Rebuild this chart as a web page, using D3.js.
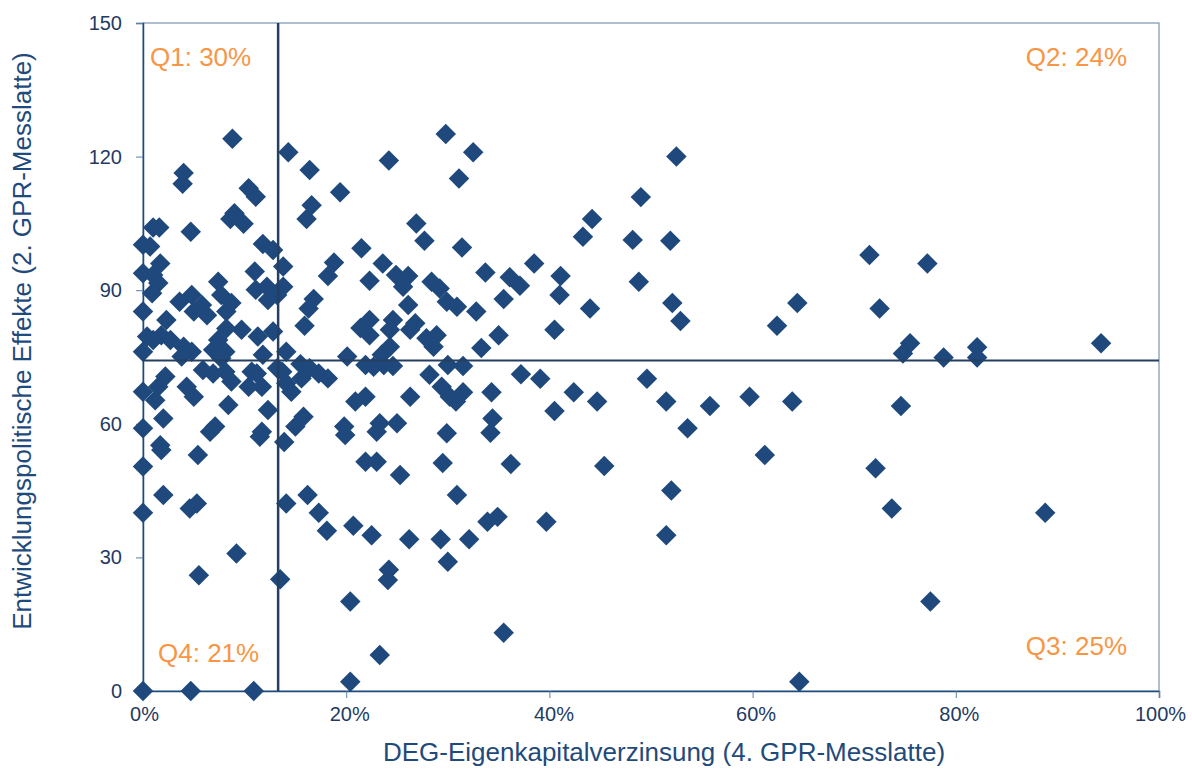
<!DOCTYPE html>
<html lang="de">
<head>
<meta charset="UTF-8">
<title>DEG Portfolio: Rendite vs. Entwicklungseffekte</title>
<script src="https://cdn.jsdelivr.net/npm/d3@7"></script>
<style>
  html, body { margin: 0; padding: 0; background: #ffffff; }
  svg { font-family: "Liberation Sans", Arial, sans-serif; display: block; }
  .axis text { fill: #1f3a63; font-size: 20px; }
  .axis path.domain { stroke: #1f4a7c; stroke-width: 1.5px; }
  .axis .tick line { stroke: #5b7fa8; stroke-width: 1px; }
  .title { fill: #1f4a7c; font-size: 26px; }
  .quadrant { fill: #f79646; font-size: 26px; }
</style>
</head>
<body>
<svg id="chart" width="1192" height="770"></svg>
<script>
// DEG-Eigenkapitalverzinsung in % (x) und entwicklungspolitische Effekte (y), paarweise
const rendite = [
  8.8, 14.3, 4.0, 3.9, 10.4, 11.1, 9.0, 9.9, 8.6, 1.0, 1.6, 4.7, 0.0, 0.7, 11.8, 12.8,
  16.4, 19.4, 16.6, 16.1, 24.2, 29.8, 26.9, 27.7, 21.5, 31.1, 32.5, 44.2, 43.3, 48.2, 49.0, 31.4,
  52.5, 51.9, 71.5, 77.2, 48.8, 52.1, 52.9, 64.4, 62.4, 72.5, 75.5, 74.8, 78.8, 82.1, 82.1, 94.3,
  49.6, 51.5, 55.8, 59.7, 63.9, 74.6, 53.6, 61.2, 72.1, 52.0, 51.5, 73.7, 88.8, 77.5, 64.6,
  45.4, 36.2, 30.9, 33.9, 34.9, 39.7, 32.1, 30.0, 35.5,
  33.7, 36.1, 37.1, 38.5, 41.1, 41.0, 35.5, 44.0, 32.8, 35.0, 40.5, 33.3, 31.5, 37.2, 39.1, 42.4,
  44.7, 40.5, 34.3, 31.5, 30.8, 34.4, 34.2, 29.9, 29.5,
  18.8, 18.2, 23.6, 22.3, 24.9, 26.1, 25.6, 28.4, 29.2, 29.9, 30.9, 16.8, 16.3, 15.9, 26.1, 21.4,
  22.3, 22.3, 24.6, 24.3, 26.8, 26.3, 27.9, 28.9, 28.6, 24.3, 23.5, 20.1, 21.9, 22.7, 23.7, 24.6,
  15.5, 16.4, 17.3, 18.2, 15.6, 28.2, 30.0, 29.4, 30.2, 26.3, 20.9, 21.9, 15.8, 15.0, 19.8, 19.9,
  23.3, 23.0, 25.0, 21.9, 23.0, 25.3,
  16.2, 17.3, 18.1, 20.7, 22.5, 26.2, 29.3, 14.1, 24.2, 24.1, 20.4, 23.3, 20.4,
  1.7, 0.0, 1.0, 1.5, 0.9, 0.0, 2.3, 0.4, 0.0, 1.8, 2.7, 4.0, 4.8, 3.8, 1.0, 3.6,
  4.8, 5.8, 6.3, 5.0, 7.4, 7.7, 8.7, 8.2, 11.0, 11.1, 12.2, 13.2, 13.8, 12.3, 13.8, 8.2,
  9.7, 7.4, 6.9, 8.1, 7.7, 11.3, 12.8, 11.8, 14.1, 5.9, 4.3, 2.2, 1.5, 0.0, 1.2, 5.0,
  2.0, 0.0, 1.7, 1.8, 5.4, 0.0, 8.4, 7.1, 6.6, 11.7, 11.5, 13.9, 12.3, 6.9, 8.1, 8.7,
  10.7, 11.2, 11.7, 10.4, 13.2, 13.7, 14.1, 14.6,
  2.0, 0.0, 4.6, 5.3, 9.2, 5.5, 13.5, 0.0, 4.7, 10.9
];
const effekte = [
  124.0, 121.0, 116.3, 113.9, 112.9, 111.0, 107.3, 104.9, 106.0, 104.1, 104.1, 103.1, 100.2, 99.8, 100.4, 99.0,
  117.0, 112.0, 109.1, 106.0, 119.1, 125.1, 105.0, 101.1, 99.4, 115.1, 121.0, 106.0, 102.0, 101.3, 110.9, 99.6,
  120.0, 101.1, 97.9, 96.0, 91.9, 87.1, 83.1, 87.1, 82.0, 85.9, 78.1, 75.8, 74.9, 77.2, 74.9, 78.1,
  70.1, 65.0, 64.0, 66.1, 65.0, 64.0, 59.0, 53.0, 50.0, 45.0, 35.0, 41.0, 40.0, 20.1, 2.1,
  50.5, 51.0, 44.0, 38.0, 39.1, 38.0, 34.1, 29.0, 13.1,
  94.0, 92.9, 91.0, 96.0, 93.2, 88.9, 88.0, 85.9, 85.2, 79.9, 81.1, 77.0, 73.0, 71.1, 70.1, 67.1,
  65.0, 62.9, 67.1, 67.1, 65.0, 61.2, 58.0, 57.9, 51.2,
  96.2, 93.2, 96.0, 92.1, 93.4, 93.2, 90.8, 91.9, 90.4, 87.4, 86.3, 88.0, 85.9, 82.0, 86.7, 81.5,
  83.3, 79.9, 83.3, 81.1, 82.6, 81.1, 79.2, 79.9, 77.3, 77.3, 75.5, 75.1, 73.2, 72.8, 73.2, 73.0,
  73.4, 72.5, 71.3, 70.2, 70.2, 71.0, 73.2, 68.3, 66.1, 66.1, 65.0, 66.1, 61.6, 59.4, 59.4, 57.5,
  60.1, 58.2, 60.1, 51.5, 51.5, 48.5,
  44.0, 40.0, 36.0, 37.1, 35.0, 34.1, 34.1, 42.1, 27.2, 24.9, 20.1, 8.1, 2.1,
  96.0, 93.8, 93.4, 91.6, 89.3, 85.2, 83.3, 79.6, 76.2, 79.9, 78.8, 77.3, 76.2, 75.1, 78.8, 87.4,
  88.9, 86.7, 84.4, 85.2, 91.9, 88.9, 87.1, 85.2, 94.2, 90.1, 90.8, 88.9, 90.8, 87.8, 95.3, 81.4,
  81.1, 78.8, 76.6, 76.2, 74.7, 79.6, 80.7, 75.5, 76.2, 72.1, 68.3, 70.6, 68.3, 67.2, 65.3, 66.1,
  61.2, 59.0, 55.2, 54.1, 53.0, 50.4, 64.2, 59.4, 58.2, 58.2, 57.1, 55.9, 63.1, 71.3, 71.7, 69.5,
  71.7, 71.3, 68.3, 68.3, 72.5, 71.7, 69.1, 67.2,
  44.0, 40.0, 41.0, 42.1, 30.9, 26.0, 25.1, 0.0, 0.0, 0.0
];

// Schwellenwerte (Mittellinien) und Quadranten-Anteile
const schwelleRendite = 13.3;
const schwelleEffekte = 74.2;
const quadrantTexte = ["Q1: 30%", "Q2: 24%", "Q3: 25%", "Q4: 21%"];

const xTicks = [0, 20, 40, 60, 80, 100];
const yTicks = [0, 30, 60, 90, 120, 150];

const xTitel = "DEG-Eigenkapitalverzinsung (4. GPR-Messlatte)";
const yTitel = "Entwicklungspolitische Effekte (2. GPR-Messlatte)";

const margin = { top: 23, right: 33, bottom: 79, left: 143 };
const width = 1192, height = 770;
const svg = d3.select("#chart");

const x = d3.scaleLinear().domain([0, 100]).range([margin.left, width - margin.right]);
const y = d3.scaleLinear().domain([0, 150]).range([height - margin.bottom, margin.top]);

// Rahmen oben/rechts
svg.append("rect")
  .attr("x", x(0)).attr("y", y(150))
  .attr("width", x(100) - x(0)).attr("height", y(0) - y(150))
  .attr("fill", "none").attr("stroke", "#7a93b3").attr("stroke-width", 1.2);

// Achsen
svg.append("g")
  .attr("class", "axis")
  .attr("transform", `translate(0,${y(0)})`)
  .call(d3.axisBottom(x).tickValues(xTicks).tickSize(7).tickPadding(9).tickFormat(d => d + "%"))
  .selectAll(".tick text")
  .attr("dx", (d, i) => [1, 3, 4, 3, 3, 1][i]);

svg.append("g")
  .attr("class", "axis")
  .attr("transform", `translate(${x(0)},0)`)
  .call(d3.axisLeft(y).tickValues(yTicks).tickSize(7).tickPadding(14));

// Punkte
const diamond = d3.symbol().type(d3.symbolSquare).size(210);
svg.append("g")
  .selectAll("path")
  .data(d3.range(rendite.length))
  .join("path")
  .attr("d", diamond)
  .attr("fill", "#1f497d")
  .attr("transform", i => `translate(${x(rendite[i])},${y(effekte[i])}) rotate(45)`);

// Mittellinien
svg.append("line")
  .attr("x1", x(0)).attr("x2", x(100))
  .attr("y1", y(schwelleEffekte)).attr("y2", y(schwelleEffekte))
  .attr("stroke", "#243f60").attr("stroke-width", 2);
svg.append("line")
  .attr("x1", x(schwelleRendite)).attr("x2", x(schwelleRendite))
  .attr("y1", y(0)).attr("y2", y(150))
  .attr("stroke", "#243f60").attr("stroke-width", 2.5);

// Quadranten-Beschriftung
svg.append("text").attr("class", "quadrant").attr("x", 150).attr("y", 66).text(quadrantTexte[0]);
svg.append("text").attr("class", "quadrant").attr("x", 1127).attr("y", 66)
  .attr("text-anchor", "end").text(quadrantTexte[1]);
svg.append("text").attr("class", "quadrant").attr("x", 1127).attr("y", 655)
  .attr("text-anchor", "end").text(quadrantTexte[2]);
svg.append("text").attr("class", "quadrant").attr("x", 158).attr("y", 662).text(quadrantTexte[3]);

// Achsentitel
svg.append("text").attr("class", "title")
  .attr("x", 664).attr("y", 761)
  .attr("text-anchor", "middle").text(xTitel);
svg.append("text").attr("class", "title")
  .attr("transform", `translate(31,341) rotate(-90)`)
  .attr("text-anchor", "middle").text(yTitel);
</script>
</body>
</html>
